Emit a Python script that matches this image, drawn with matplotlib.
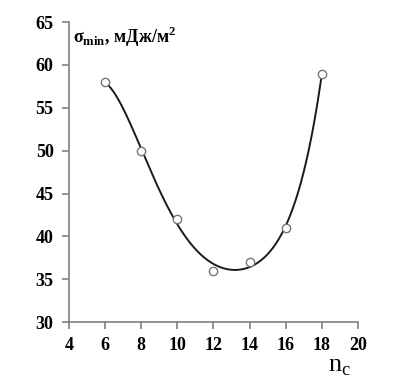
import numpy as np
import matplotlib

matplotlib.use("Agg")
import matplotlib.pyplot as plt

n_c = [6, 8, 10, 12, 14, 16, 18]
sigma_min = [58, 50, 42, 36, 37, 41, 59]
x_ticks = [4, 6, 8, 10, 12, 14, 16, 18, 20]
y_ticks = [30, 35, 40, 45, 50, 55, 60, 65]

plt.rcParams["font.family"] = ["Liberation Serif", "DejaVu Serif"]

fig = plt.figure(figsize=(4.05, 3.88), dpi=100)
ax = fig.add_axes([0.170, 0.170, 0.714, 0.773])

# polynomial trend line, as in the original spreadsheet chart
coef = np.polyfit(n_c, sigma_min, 5)
xs = np.linspace(min(n_c), max(n_c), 200)
ax.plot(xs, np.polyval(coef, xs), color="#1a1a1a", lw=1.4, zorder=2)
ax.plot(n_c, sigma_min, "o", ms=6, mfc="white", mec="#777777", mew=1.0, zorder=3)

ax.set_xlim(4, 20)
ax.set_ylim(30, 65)
ax.set_xticks(x_ticks)
ax.set_yticks(y_ticks)
for side in ("top", "right"):
    ax.spines[side].set_visible(False)
for side in ("left", "bottom"):
    ax.spines[side].set_color("#808080")
    ax.spines[side].set_linewidth(1.2)
ax.tick_params(direction="out", length=5, width=1.2, color="#808080",
               labelsize=13, pad=6)
for lbl in ax.get_xticklabels() + ax.get_yticklabels():
    lbl.set_fontweight("bold")

ax.text(0.015, 0.99, r"σ$_{\mathregular{min}}$, мДж/м$^{\mathregular{2}}$",
        transform=ax.transAxes, ha="left", va="top", fontsize=13, fontweight="bold")
fig.text(0.81, 0.025, r"n$_{\mathregular{c}}$", fontsize=19, ha="left", va="bottom")

fig.savefig("out.png", dpi=100)
